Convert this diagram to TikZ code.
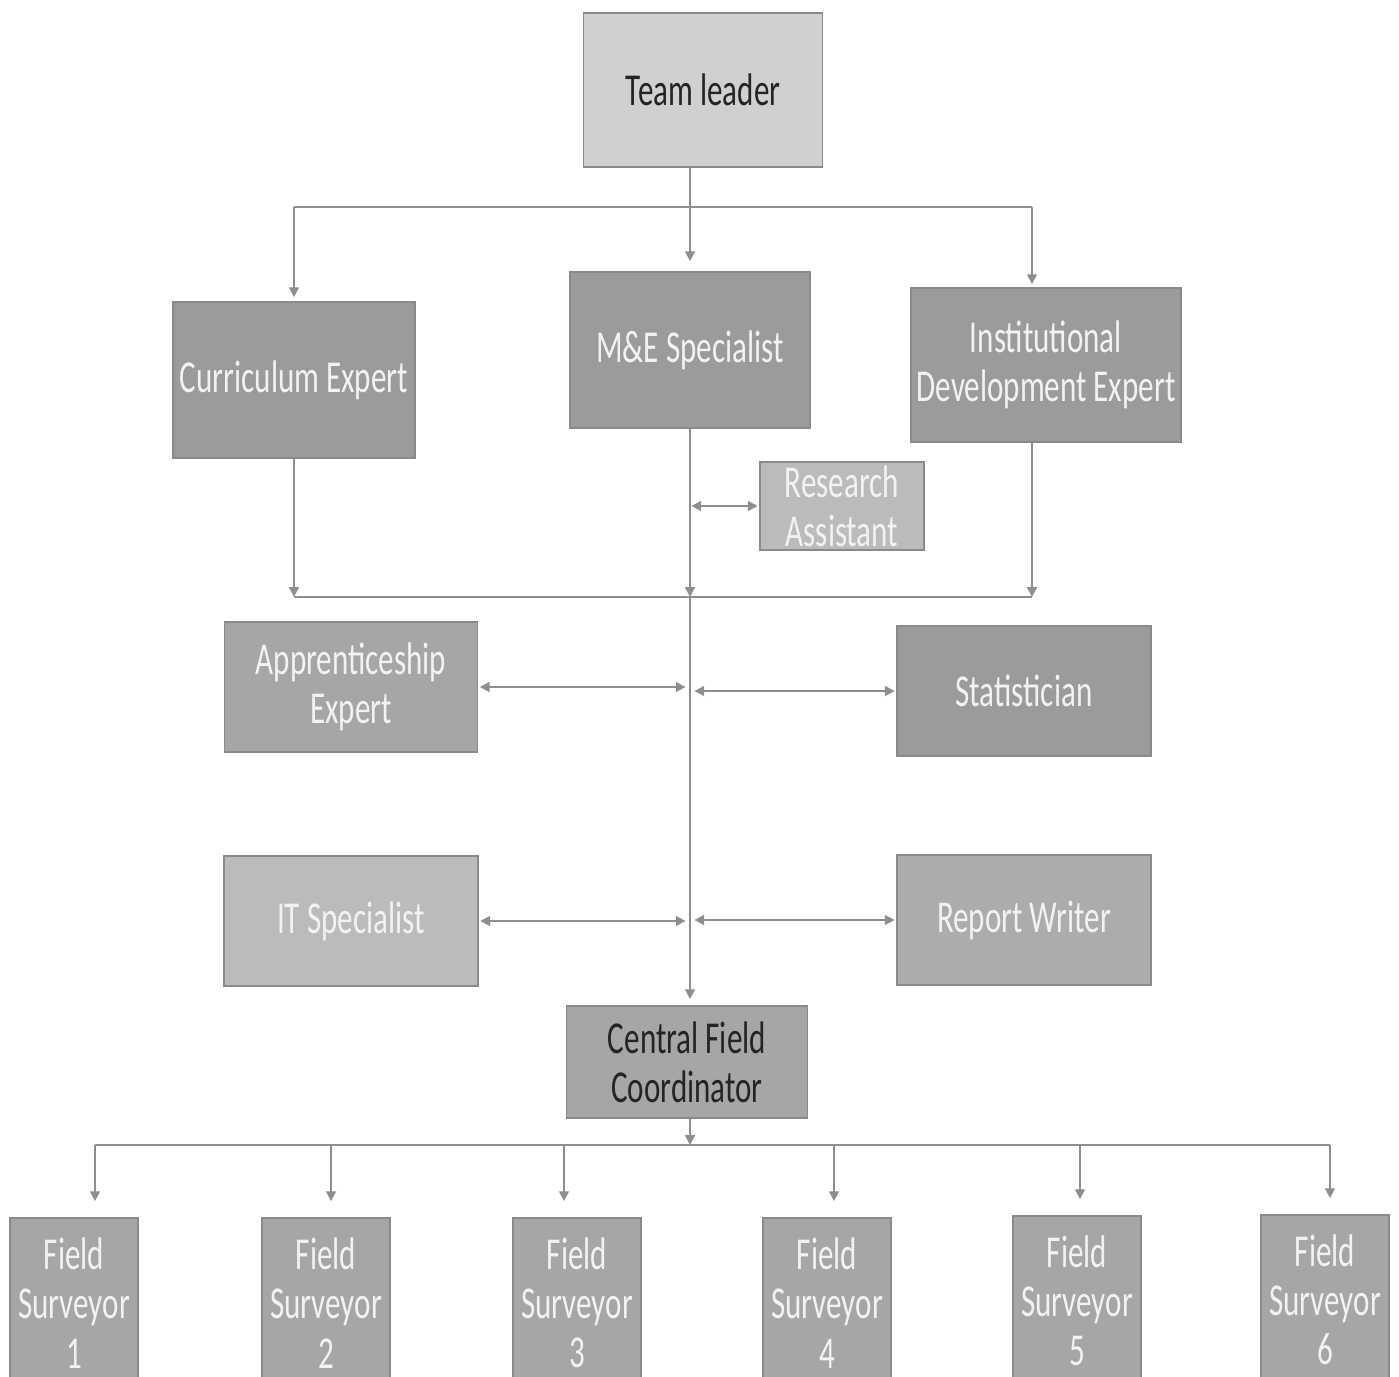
\documentclass[tikz,border=0pt]{standalone}
\usepackage{fontspec}
\setmainfont{Carlito}[FakeStretch=0.68]
\usepackage{tikz}
\usetikzlibrary{arrows.meta,positioning,calc}
\definecolor{ink}{HTML}{242424}
\definecolor{paper}{HTML}{F2F2F2}
\definecolor{wire}{HTML}{8E8E8E}
\definecolor{edge}{HTML}{8A8A8A}
\definecolor{palebox}{HTML}{D0D0D0}
\definecolor{midbox}{HTML}{A6A6A6}
\definecolor{darkbox}{HTML}{9B9B9B}
\definecolor{lightbox}{HTML}{BBBBBB}
\tikzset{
  >={Triangle[length=2.8pt,width=2.8pt]},
  role/.style={draw=edge,line width=.5pt,inner xsep=0pt,inner ysep=0pt,align=center,
    font=\fontsize{13}{14}\selectfont,text=paper,fill=darkbox},
  head/.style={role,fill=palebox,text=ink},
  link/.style={draw=wire,line width=.55pt},
  arr/.style={link,->},
  both/.style={link,<->,shorten <=.4pt,shorten >=.4pt},
}
\begin{document}
\begin{tikzpicture}[x=1cm,y=1cm]
  \useasboundingbox (0,0) rectangle (13.99,-13.77);
  \node[head,minimum width=2.39cm,minimum height=1.54cm] (lead) at (7.03,-0.90) {Team leader};
  \node[role,minimum width=2.42cm,minimum height=1.56cm] (curr) at (2.94,-3.80) {Curriculum Expert};
  \node[role,minimum width=2.40cm,minimum height=1.56cm] (mne) at (6.90,-3.50) {M\&E Specialist};
  \node[role,minimum width=2.70cm,minimum height=1.54cm] (inst) at (10.46,-3.65) {Institutional\\Development Expert};
  \node[role,fill=lightbox,minimum width=1.64cm,minimum height=.88cm] (ra) at (8.42,-5.06) {Research\\Assistant};
  \node[role,fill=midbox,minimum width=2.53cm,minimum height=1.30cm] (appr) at (3.51,-6.87) {Apprenticeship\\Expert};
  \node[role,minimum width=2.54cm,minimum height=1.30cm] (stat) at (10.24,-6.91) {Statistician};
  \node[role,fill=lightbox,minimum width=2.54cm,minimum height=1.30cm] (its) at (3.51,-9.21) {IT Specialist};
  \node[role,fill=lightbox!92!black,minimum width=2.54cm,minimum height=1.30cm] (rw) at (10.24,-9.20) {Report Writer};
  \node[head,fill=midbox,minimum width=2.41cm,minimum height=1.12cm] (cfc) at (6.87,-10.62) {Central Field\\Coordinator};
  \foreach \i/\x/\y in {1/0.74/-13.03,2/3.26/-13.03,3/5.77/-13.03,4/8.27/-13.03,5/10.77/-13.01,6/13.25/-13.00}
    {\node[role,fill=midbox,minimum width=1.28cm,minimum height=1.70cm] (fs\i) at (\x,\y) {Field\\Surveyor\\\i};}
  \coordinate (bus1) at (6.90,-2.07);
  \coordinate (bus2) at (6.90,-5.97);
  \coordinate (bus3) at (6.90,-11.45);
  \coordinate (ix) at (10.32,0);
  \foreach \i/\dx in {1/2.1,2/.5,3/-1.3,4/.7,5/.3,6/.5}
    {\coordinate (drop\i) at ([xshift=\dx mm,yshift=1.6mm]fs\i.north);}
  \draw[link] (bus1 -| curr.north) -- (bus1 -| ix);
  \draw[arr] (lead.south -| bus1) -- ([yshift=1mm]mne.north);
  \draw[arr] (bus1 -| curr.north) -- ([yshift=.4mm]curr.north);
  \draw[arr] (bus1 -| ix) -- ([yshift=.3mm]inst.north -| ix);
  \draw[link] (bus2 -| curr.south) -- (bus2 -| ix);
  \draw[arr] (curr.south) -- (bus2 -| curr.south);
  \draw[arr] (mne.south) -- (bus2);
  \draw[arr] (inst.south -| ix) -- (bus2 -| ix);
  \draw[both] (ra.west -| mne.south) -- (ra.west);
  \draw[arr] (bus2) -- ([yshift=.6mm]cfc.north -| bus2);
  \draw[both] (appr.east) -- ([xshift=-.3mm]appr.east -| bus2);
  \draw[both] ([xshift=.3mm]stat.west -| bus2) -- (stat.west);
  \draw[both] (its.east) -- ([xshift=-.3mm]its.east -| bus2);
  \draw[both] ([xshift=.3mm]rw.west -| bus2) -- (rw.west);
  \draw[arr] (cfc.south -| bus3) -- (bus3);
  \draw[link] (bus3 -| drop1) -- (bus3 -| drop6);
  \foreach \i in {1,...,6}
    {\draw[arr] (bus3 -| drop\i) -- (drop\i);}
\end{tikzpicture}
\end{document}
